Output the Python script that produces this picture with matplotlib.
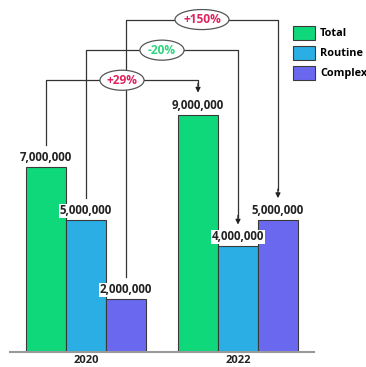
import matplotlib.pyplot as plt
from matplotlib.patches import Ellipse, Patch

plt.rcParams['font.family'] = ['Open Sans', 'DejaVu Sans']

# values (millions)
years = ['2020', '2022']
series = ['Total', 'Routine', 'Complex']
values_2020 = [7, 5, 2]
values_2022 = [9, 4, 5]
value_labels_2020 = ['7,000,000', '5,000,000', '2,000,000']
value_labels_2022 = ['9,000,000', '4,000,000', '5,000,000']
colors = ['#0fd87b', '#2aaee3', '#6b68f0']

# change brackets: (from series idx in 2020, to series idx in 2022, text, colour, level)
changes = [(0, 0, '+29%', '#e0245e', 10.3),
           (1, 1, '-20%', '#2dd67f', 11.44),
           (2, 2, '+150%', '#e0245e', 12.6)]

W, H = 366, 367
fig = plt.figure(figsize=(W / 100, H / 100), dpi=100)
ax = fig.add_axes([10 / W, 15 / H, 304 / W, 343 / H])

width = 0.263
offsets = [-width, 0, width]

for gi, (vals, labs) in enumerate([(values_2020, value_labels_2020), (values_2022, value_labels_2022)]):
    for si, (v, lab) in enumerate(zip(vals, labs)):
        x = gi + offsets[si]
        ax.bar(x, v, width=width, color=colors[si], edgecolor='#3a3a3a', linewidth=0.8, zorder=2)
        ax.text(x, v + 0.36, lab, ha='center', va='center', fontsize=8.3, fontweight='bold',
                color='#222222', zorder=4,
                bbox=dict(boxstyle='square,pad=0.05', fc='white', ec='none'))

line_kw = dict(color='#333333', lw=0.9, zorder=1)
for s0, s1, txt, col, level in changes:
    x0 = 0 + offsets[s0]
    x1 = 1 + offsets[s1]
    y0 = values_2020[s0] + 0.83
    y1 = values_2022[s1] + 0.83
    ax.plot([x0, x0, x1, x1], [y0, level, level, y1 + 0.3], **line_kw)
    ax.annotate('', xy=(x1, y1), xytext=(x1, y1 + 0.35),
                arrowprops=dict(arrowstyle='-|>', color='#222222', lw=0.9,
                                mutation_scale=7, shrinkA=0, shrinkB=0), zorder=1)
    xm = (x0 + x1) / 2
    ew = 0.355 if len(txt) > 4 else 0.29
    ax.add_patch(Ellipse((xm, level), ew, 0.76, fc='white', ec='#555555', lw=0.9, zorder=3))
    ax.text(xm, level, txt, ha='center', va='center', color=col, fontsize=8.6,
            fontweight='bold', zorder=4)

ax.set_xlim(-0.5, 1.5)
ax.set_ylim(0, 13)
ax.set_xticks([0, 1])
ax.set_xticklabels(years, fontsize=8, fontweight='bold', color='#222222')
ax.tick_params(axis='x', length=0, pad=2)
ax.set_yticks([])
for side in ['top', 'right', 'left']:
    ax.spines[side].set_visible(False)
ax.spines['bottom'].set_color('#999999')
ax.spines['bottom'].set_linewidth(1.5)
ax.patch.set_alpha(0)

handles = [Patch(facecolor=c, edgecolor='#3a3a3a', lw=0.8) for c in colors]
fig.legend(handles, series, loc='upper left', bbox_to_anchor=(293 / W, 1 - 26 / H),
           frameon=False, borderpad=0, borderaxespad=0, handlelength=2.0, handleheight=1.55,
           labelspacing=0.6, handletextpad=0.5,
           prop=dict(family='Open Sans', weight='bold', size=7.8))

fig.savefig('out.png', dpi=100)
